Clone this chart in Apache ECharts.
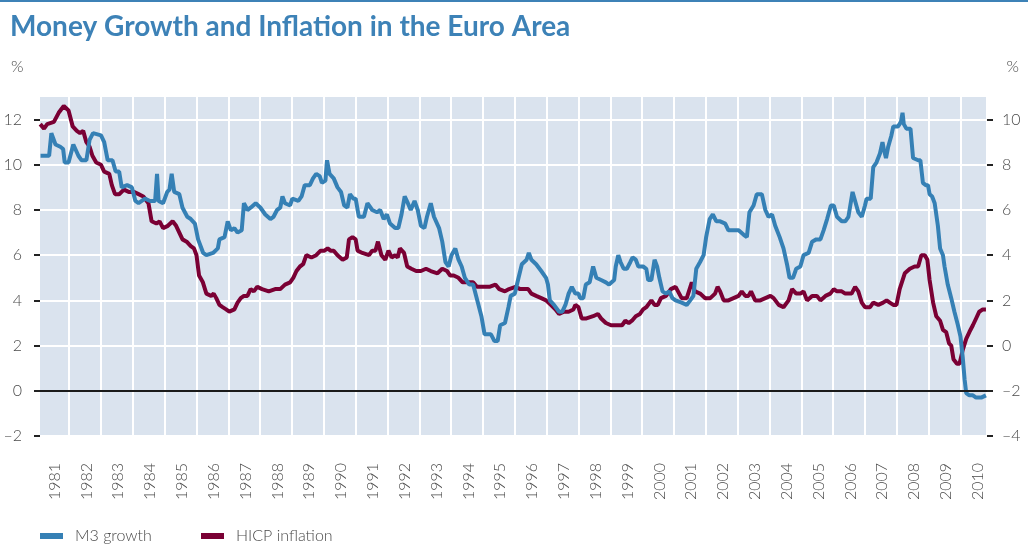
<!DOCTYPE html>
<html>
<head>
<meta charset="utf-8">
<title>Money Growth and Inflation in the Euro Area</title>
<script src="https://cdn.jsdelivr.net/npm/echarts@6/dist/echarts.min.js"></script>
<style>
  html, body { margin: 0; padding: 0; background: #fff; }
  #chart { width: 1028px; height: 542px; border-top: 2px solid #3d82b7; }
</style>
</head>
<body>
<div id="chart"></div>
<script>
// time positions are decimal years (Jan 1 = whole year)
var m3Time = [
  1981.10, 1981.37, 1981.44, 1981.57, 1981.72, 1981.81, 1981.86, 1981.98,
  1982.13, 1982.29, 1982.39, 1982.54, 1982.64, 1982.75, 1983.00, 1983.10,
  1983.21, 1983.36, 1983.46, 1983.57, 1983.65, 1983.82, 1983.97, 1984.08,
  1984.18, 1984.38, 1984.54, 1984.70, 1984.76, 1984.81, 1984.95, 1985.08,
  1985.15, 1985.22, 1985.30, 1985.46, 1985.56, 1985.71, 1985.82, 1985.95,
  1986.05, 1986.21, 1986.31, 1986.52, 1986.67, 1986.72, 1986.88, 1986.98,
  1987.08, 1987.19, 1987.29, 1987.42, 1987.49, 1987.60, 1987.70, 1987.86,
  1988.01, 1988.16, 1988.32, 1988.42, 1988.53, 1988.63, 1988.70, 1988.78,
  1988.94, 1989.01, 1989.20, 1989.30, 1989.40, 1989.56, 1989.66, 1989.76,
  1989.87, 1989.94, 1990.05, 1990.10, 1990.18, 1990.31, 1990.43, 1990.54,
  1990.64, 1990.74, 1990.82, 1990.93, 1991.00, 1991.10, 1991.26, 1991.37,
  1991.52, 1991.67, 1991.77, 1991.88, 1991.98, 1992.08, 1992.24, 1992.34,
  1992.44, 1992.54, 1992.64, 1992.73, 1992.85, 1992.95, 1993.05, 1993.16,
  1993.24, 1993.36, 1993.46, 1993.62, 1993.72, 1993.82, 1993.92, 1994.01,
  1994.13, 1994.23, 1994.33, 1994.43, 1994.57, 1994.69, 1994.84, 1994.95,
  1995.05, 1995.15, 1995.25, 1995.36, 1995.46, 1995.54, 1995.69, 1995.80,
  1995.87, 1996.00, 1996.10, 1996.22, 1996.37, 1996.44, 1996.52, 1996.67,
  1996.83, 1996.98, 1997.04, 1997.10, 1997.23, 1997.39, 1997.49, 1997.59,
  1997.69, 1997.79, 1997.90, 1998.00, 1998.05, 1998.15, 1998.23, 1998.35,
  1998.46, 1998.56, 1998.71, 1998.86, 1998.96, 1999.12, 1999.17, 1999.25,
  1999.32, 1999.42, 1999.52, 1999.63, 1999.70, 1999.80, 1999.88, 2000.03,
  2000.13, 2000.19, 2000.29, 2000.39, 2000.47, 2000.54, 2000.64, 2000.75,
  2000.85, 2000.95, 2001.05, 2001.24, 2001.40, 2001.51, 2001.61, 2001.70,
  2001.82, 2001.93, 2002.01, 2002.12, 2002.22, 2002.33, 2002.45, 2002.61,
  2002.71, 2002.87, 2003.03, 2003.19, 2003.29, 2003.37, 2003.50, 2003.60,
  2003.76, 2003.87, 2003.97, 2004.08, 2004.18, 2004.32, 2004.44, 2004.55,
  2004.63, 2004.74, 2004.84, 2004.97, 2005.07, 2005.23, 2005.34, 2005.47,
  2005.60, 2005.70, 2005.81, 2005.93, 2006.02, 2006.12, 2006.27, 2006.38,
  2006.48, 2006.61, 2006.69, 2006.79, 2006.90, 2007.00, 2007.05, 2007.18,
  2007.26, 2007.36, 2007.47, 2007.55, 2007.59, 2007.66, 2007.73, 2007.83,
  2007.89, 2008.04, 2008.13, 2008.18, 2008.22, 2008.30, 2008.43, 2008.51,
  2008.67, 2008.74, 2008.82, 2008.91, 2008.98, 2009.03, 2009.11, 2009.19,
  2009.29, 2009.36, 2009.45, 2009.50, 2009.60, 2009.71, 2009.81, 2009.92,
  2010.00, 2010.07, 2010.13, 2010.18, 2010.28, 2010.39, 2010.49, 2010.65,
  2010.80
];
var m3Growth = [
  10.4, 10.4, 11.4, 10.9, 10.8, 10.7, 10.1, 10.1,
  10.9, 10.4, 10.2, 10.2, 11.1, 11.4, 11.3, 11.0,
  10.2, 10.2, 9.7, 9.7, 9.0, 9.1, 9.0, 8.4,
  8.3, 8.5, 8.4, 8.4, 9.6, 8.4, 8.3, 8.8,
  8.9, 9.6, 8.8, 8.7, 8.1, 7.7, 7.6, 7.4,
  6.7, 6.1, 6.0, 6.1, 6.3, 6.7, 6.8, 7.5,
  7.1, 7.2, 7.0, 7.1, 8.3, 8.0, 8.1, 8.3,
  8.1, 7.8, 7.6, 7.7, 8.0, 8.1, 8.6, 8.3,
  8.2, 8.5, 8.4, 8.6, 9.1, 9.1, 9.4, 9.6,
  9.5, 9.2, 9.3, 10.2, 9.6, 9.4, 9.0, 8.8,
  8.2, 8.1, 8.7, 8.5, 8.5, 7.7, 7.7, 8.3,
  8.0, 7.9, 8.0, 7.6, 7.8, 7.4, 7.2, 7.2,
  7.8, 8.6, 8.3, 8.0, 8.4, 8.0, 7.3, 7.2,
  7.7, 8.3, 7.7, 7.2, 6.6, 5.7, 5.5, 6.0,
  6.3, 5.8, 5.5, 5.0, 4.7, 4.7, 3.9, 3.3,
  2.5, 2.5, 2.5, 2.2, 2.2, 2.9, 3.0, 3.7,
  4.2, 4.3, 4.9, 5.6, 5.8, 6.1, 5.8, 5.6,
  5.3, 5.0, 4.7, 4.0, 3.8, 3.5, 3.5, 3.8,
  4.3, 4.6, 4.3, 4.3, 4.1, 4.1, 4.7, 4.8,
  5.5, 5.0, 4.9, 4.8, 4.7, 4.9, 5.5, 6.0,
  5.7, 5.4, 5.4, 5.7, 5.9, 5.8, 5.5, 5.5,
  5.4, 4.9, 4.9, 5.8, 5.5, 5.0, 4.4, 4.3,
  4.4, 4.1, 4.0, 3.9, 3.8, 4.0, 4.2, 5.4,
  5.7, 6.0, 6.8, 7.6, 7.8, 7.5, 7.5, 7.4,
  7.1, 7.1, 7.1, 6.9, 6.8, 7.9, 8.2, 8.7,
  8.7, 8.0, 7.7, 7.8, 7.3, 6.8, 6.3, 5.6,
  5.0, 5.0, 5.4, 5.5, 6.0, 6.1, 6.6, 6.7,
  6.7, 7.1, 7.6, 8.2, 8.2, 7.7, 7.5, 7.5,
  7.7, 8.8, 8.4, 7.9, 7.7, 8.2, 8.5, 8.5,
  9.9, 10.1, 10.5, 11.0, 10.7, 10.3, 10.8, 11.3,
  11.7, 11.7, 11.9, 12.3, 11.8, 11.6, 11.6, 10.3,
  10.2, 10.2, 9.2, 9.1, 9.1, 8.7, 8.6, 8.3,
  7.3, 6.3, 6.0, 5.5, 4.7, 4.1, 3.5, 2.9,
  2.4, 1.5, 0.5, -0.1, -0.2, -0.2, -0.3, -0.3,
  -0.2
];

var hicpTime = [
  1981.09, 1981.21, 1981.31, 1981.52, 1981.67, 1981.83, 1981.98, 1982.11,
  1982.24, 1982.34, 1982.44, 1982.54, 1982.64, 1982.73, 1982.85, 1983.00,
  1983.10, 1983.26, 1983.34, 1983.44, 1983.57, 1983.72, 1983.87, 1984.03,
  1984.18, 1984.33, 1984.49, 1984.59, 1984.74, 1984.84, 1984.95, 1985.10,
  1985.25, 1985.36, 1985.46, 1985.56, 1985.69, 1985.82, 1985.92, 1986.00,
  1986.08, 1986.20, 1986.31, 1986.46, 1986.54, 1986.62, 1986.72, 1986.82,
  1986.93, 1987.03, 1987.19, 1987.29, 1987.39, 1987.49, 1987.60, 1987.70,
  1987.80, 1987.91, 1988.06, 1988.27, 1988.47, 1988.63, 1988.78, 1988.94,
  1989.04, 1989.14, 1989.25, 1989.35, 1989.45, 1989.61, 1989.76, 1989.90,
  1990.02, 1990.12, 1990.21, 1990.31, 1990.43, 1990.59, 1990.72, 1990.79,
  1990.90, 1991.00, 1991.06, 1991.21, 1991.42, 1991.52, 1991.62, 1991.70,
  1991.81, 1991.93, 1992.03, 1992.13, 1992.24, 1992.32, 1992.39, 1992.52,
  1992.62, 1992.75, 1992.90, 1993.05, 1993.21, 1993.36, 1993.57, 1993.72,
  1993.87, 1993.97, 1994.08, 1994.23, 1994.36, 1994.54, 1994.69, 1994.81,
  1995.00, 1995.20, 1995.39, 1995.51, 1995.69, 1995.82, 1996.02, 1996.17,
  1996.42, 1996.52, 1996.67, 1996.83, 1996.98, 1997.13, 1997.28, 1997.39,
  1997.54, 1997.69, 1997.84, 1997.90, 1998.00, 1998.10, 1998.25, 1998.46,
  1998.61, 1998.71, 1998.86, 1999.02, 1999.22, 1999.37, 1999.47, 1999.58,
  1999.68, 1999.80, 1999.93, 2000.03, 2000.13, 2000.29, 2000.39, 2000.49,
  2000.59, 2000.75, 2000.90, 2001.05, 2001.24, 2001.40, 2001.56, 2001.66,
  2001.82, 2001.98, 2002.14, 2002.29, 2002.37, 2002.45, 2002.56, 2002.71,
  2002.87, 2003.03, 2003.13, 2003.24, 2003.34, 2003.42, 2003.55, 2003.71,
  2003.87, 2004.03, 2004.13, 2004.29, 2004.44, 2004.60, 2004.71, 2004.84,
  2004.97, 2005.07, 2005.18, 2005.34, 2005.49, 2005.60, 2005.76, 2005.91,
  2006.02, 2006.12, 2006.27, 2006.38, 2006.48, 2006.58, 2006.69, 2006.79,
  2006.90, 2007.00, 2007.16, 2007.26, 2007.42, 2007.57, 2007.68, 2007.78,
  2007.89, 2007.99, 2008.09, 2008.25, 2008.41, 2008.56, 2008.67, 2008.77,
  2008.88, 2008.96, 2009.03, 2009.14, 2009.24, 2009.36, 2009.45, 2009.55,
  2009.64, 2009.71, 2009.78, 2009.89, 2009.97, 2010.07, 2010.18, 2010.28,
  2010.39, 2010.49, 2010.59, 2010.70, 2010.80
];
var hicpInflation = [
  9.8, 9.6, 9.8, 9.9, 10.3, 10.6, 10.4, 9.7,
  9.5, 9.4, 9.5, 9.0, 8.8, 8.4, 8.1, 8.0,
  7.7, 7.6, 7.1, 6.7, 6.7, 6.9, 6.8, 6.8,
  6.7, 6.6, 6.3, 5.5, 5.4, 5.5, 5.2, 5.3,
  5.5, 5.3, 5.0, 4.7, 4.6, 4.4, 4.3, 4.0,
  3.1, 2.8, 2.3, 2.2, 2.3, 2.1, 1.8, 1.7,
  1.6, 1.5, 1.6, 1.9, 2.1, 2.2, 2.2, 2.5,
  2.4, 2.6, 2.5, 2.4, 2.5, 2.5, 2.7, 2.8,
  3.0, 3.3, 3.5, 3.6, 4.0, 3.9, 4.0, 4.2,
  4.2, 4.3, 4.2, 4.2, 4.0, 3.8, 3.9, 4.7,
  4.8, 4.7, 4.2, 4.1, 4.0, 4.2, 4.2, 4.6,
  4.0, 3.8, 4.2, 3.9, 4.0, 3.9, 4.3, 4.1,
  3.5, 3.4, 3.3, 3.3, 3.4, 3.3, 3.2, 3.4,
  3.3, 3.1, 3.1, 3.0, 2.8, 2.8, 2.8, 2.6,
  2.6, 2.6, 2.7, 2.5, 2.4, 2.5, 2.6, 2.5,
  2.5, 2.3, 2.2, 2.1, 2.0, 1.8, 1.6, 1.4,
  1.5, 1.5, 1.6, 1.8, 1.7, 1.2, 1.2, 1.3,
  1.4, 1.2, 1.0, 0.9, 0.9, 0.9, 1.1, 1.0,
  1.1, 1.3, 1.4, 1.6, 1.7, 2.0, 1.8, 1.8,
  2.1, 2.2, 2.5, 2.6, 2.1, 2.1, 2.8, 2.4,
  2.3, 2.1, 2.1, 2.3, 2.6, 2.4, 2.0, 2.0,
  2.1, 2.2, 2.4, 2.2, 2.2, 2.4, 2.0, 2.0,
  2.1, 2.2, 2.1, 1.8, 1.7, 2.0, 2.5, 2.3,
  2.3, 2.4, 2.0, 2.2, 2.2, 2.0, 2.2, 2.3,
  2.5, 2.4, 2.4, 2.3, 2.3, 2.3, 2.6, 2.4,
  1.9, 1.7, 1.7, 1.9, 1.8, 1.9, 2.0, 1.9,
  1.8, 1.8, 2.5, 3.2, 3.4, 3.5, 3.5, 4.0,
  4.0, 3.8, 2.9, 1.9, 1.3, 1.1, 0.7, 0.6,
  0.1, 0.0, -0.6, -0.8, -0.8, -0.2, 0.3, 0.6,
  0.9, 1.2, 1.5, 1.6, 1.6
];

var leftTicks = [-2, 0, 2, 4, 6, 8, 10, 12];
var rightTicks = [-4, -2, 0, 2, 4, 6, 8, 10];

// monthly bands, February 1981 to October 2010
var months = [];
for (var y = 1981; y <= 2010; y++) {
  for (var m = 1; m <= 12; m++) {
    if (y === 1981 && m < 2) continue;
    if (y === 2010 && m > 10) continue;
    months.push(y + '-' + (m < 10 ? '0' + m : m));
  }
}

var textGrey = '#4a4a4a';
var fontName = 'Lato';

function pairs(ts, vs) {
  var out = [];
  for (var i = 0; i < ts.length; i++) out.push([ts[i], vs[i]]);
  return out;
}
function dashNum(v) {
  return v < 0 ? '\u2013' + Math.abs(v) : String(v);
}
function sideAxis(pos, lo, hi, ticks, margin) {
  return {
    type: 'value',
    position: pos,
    min: lo,
    max: hi,
    interval: 2,
    axisLine: { show: false },
    axisTick: {
      show: true, length: 6, customValues: ticks,
      lineStyle: { color: '#222', width: 2 }
    },
    axisLabel: {
      customValues: ticks, margin: margin, formatter: dashNum,
      color: textGrey, fontFamily: fontName, fontSize: 16, fontWeight: 300
    },
    splitLine: { show: pos === 'left', lineStyle: { color: '#fff', width: 2 } }
  };
}
function legendBox(name, left) {
  return {
    data: [name], left: left, top: 526, padding: 0,
    icon: 'rect', itemWidth: 23, itemHeight: 6,
    selectedMode: false,
    textStyle: { color: textGrey, fontFamily: fontName, fontSize: 16, fontWeight: 300, padding: [0, 0, 0, 7] }
  };
}

var myChart = echarts.init(document.getElementById('chart'));

var option = {
  animation: false,
  title: [
    {
      text: 'Money Growth and Inflation in the Euro Area',
      left: 5, top: 6,
      textStyle: { color: '#3d82b7', fontFamily: fontName, fontSize: 28, fontWeight: 'bold' }
    },
    { text: '%', left: 6, top: 52, textStyle: { color: textGrey, fontFamily: fontName, fontSize: 16, fontWeight: 300 } },
    { text: '%', right: 4, top: 52, textStyle: { color: textGrey, fontFamily: fontName, fontSize: 16, fontWeight: 300 } }
  ],
  legend: [legendBox('M3 growth', 40), legendBox('HICP inflation', 201)],
  grid: {
    left: 40, right: 41, top: 95, bottom: 108,
    show: true, backgroundColor: '#dae3ee', borderWidth: 0
  },
  xAxis: [
    {
      type: 'category',
      data: months,
      boundaryGap: true,
      axisLine: { show: false },
      axisTick: { show: false },
      axisLabel: {
        interval: function (i, v) { return v.slice(5) === '07'; },
        formatter: function (v) { return v.slice(0, 4); },
        rotate: 90, margin: 27,
        color: textGrey, fontFamily: fontName, fontSize: 16, fontWeight: 300
      },
      splitLine: {
        show: true,
        interval: function (i, v) { return v.slice(5) === '01'; },
        lineStyle: { color: '#fff', width: 2 }
      }
    },
    {
      type: 'value',
      show: false,
      min: 1981 + 1 / 12,
      max: 2010 + 10 / 12,
      splitLine: { show: false }
    }
  ],
  yAxis: [
    sideAxis('left', -2, 13, leftTicks, 18),
    sideAxis('right', -4, 11, rightTicks, 15)
  ],
  series: [
    {
      name: 'HICP inflation',
      type: 'line',
      xAxisIndex: 1,
      yAxisIndex: 1,
      data: pairs(hicpTime, hicpInflation),
      showSymbol: false,
      symbol: 'none',
      color: '#7a0034',
      lineStyle: { width: 4, color: '#7a0034' },
      markLine: {
        silent: true,
        symbol: ['none', 'none'],
        label: { show: false },
        lineStyle: { color: '#1a1a1a', width: 2, type: 'solid' },
        data: [{ yAxis: -2 }]
      }
    },
    {
      name: 'M3 growth',
      type: 'line',
      xAxisIndex: 1,
      yAxisIndex: 0,
      data: pairs(m3Time, m3Growth),
      showSymbol: false,
      symbol: 'none',
      color: '#3580b5',
      lineStyle: { width: 4, color: '#3580b5' }
    }
  ]
};

myChart.setOption(option);
</script>
</body>
</html>
